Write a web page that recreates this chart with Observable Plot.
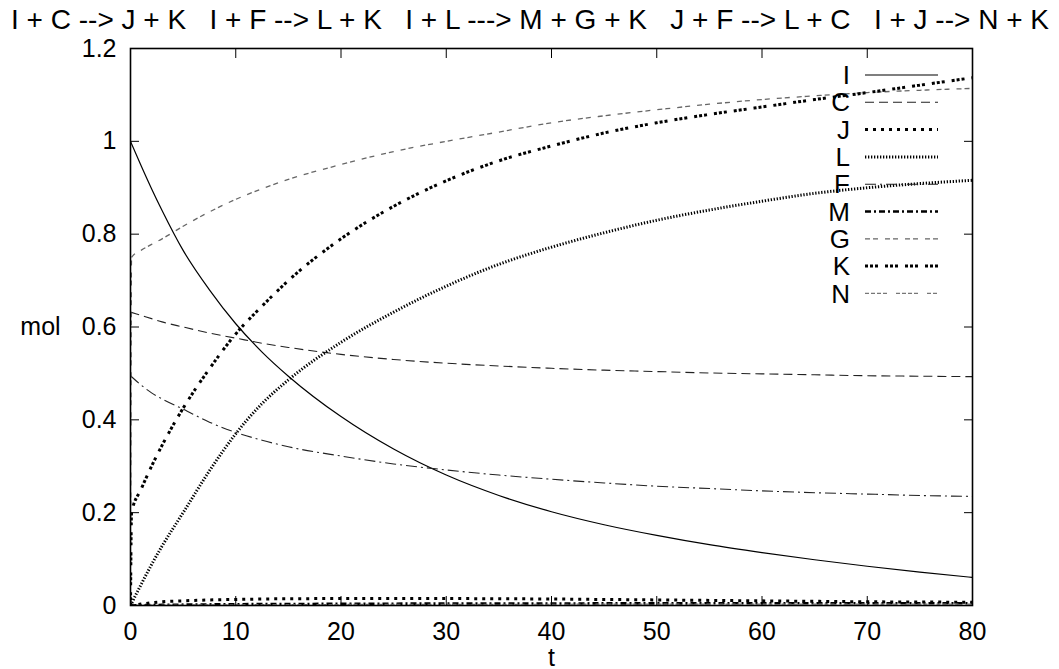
<!DOCTYPE html>
<html>
<head>
<meta charset="utf-8">
<script src="https://cdn.jsdelivr.net/npm/d3@7"></script>
<script src="https://cdn.jsdelivr.net/npm/@observablehq/plot@0.6"></script>
<style>
  html, body { margin: 0; padding: 0; background: #fff; }
  #chart svg { display: block; }
</style>
</head>
<body>
<div id="chart"></div>
<script>
// Reaction scheme shown as the title
const title = "I + C --> J + K   I + F --> L + K   I + L ---> M + G + K   J + F --> L + C   I + J --> N + K";

const xTicks = [0, 10, 20, 30, 40, 50, 60, 70, 80];
const yTicks = [0, 0.2, 0.4, 0.6, 0.8, 1, 1.2];
const yTickLabels = ["0", "0.2", "0.4", "0.6", "0.8", "1", "1.2"];

// Common time grid
const T = [0, 1, 2, 3, 5, 7.5, 10, 12.5, 15, 20, 25, 30, 35, 40, 45, 50, 55, 60, 65, 70, 75, 80];

// Amounts (mol) on the common grid
const I = [1.0, 0.948, 0.898, 0.851, 0.765, 0.680, 0.607, 0.546, 0.494, 0.407, 0.337, 0.281, 0.237, 0.202, 0.174, 0.151, 0.131, 0.114, 0.0985, 0.0845, 0.072, 0.0605];
const C = [0.632, 0.625, 0.618, 0.611, 0.600, 0.587, 0.576, 0.565, 0.556, 0.541, 0.530, 0.522, 0.516, 0.511, 0.507, 0.504, 0.501, 0.499, 0.497, 0.495, 0.494, 0.493];
const J = [0, 0.003, 0.006, 0.008, 0.010, 0.012, 0.013, 0.014, 0.0145, 0.015, 0.015, 0.015, 0.0145, 0.014, 0.013, 0.012, 0.011, 0.010, 0.009, 0.008, 0.0075, 0.007];
const L = [0, 0.045, 0.088, 0.128, 0.200, 0.290, 0.370, 0.435, 0.486, 0.567, 0.632, 0.688, 0.735, 0.772, 0.803, 0.830, 0.852, 0.871, 0.888, 0.900, 0.909, 0.916];
const F = [0.495, 0.475, 0.458, 0.445, 0.423, 0.395, 0.373, 0.356, 0.342, 0.322, 0.305, 0.292, 0.281, 0.272, 0.264, 0.257, 0.252, 0.247, 0.243, 0.240, 0.237, 0.235];
const M = [0, 0.0005, 0.001, 0.0013, 0.0018, 0.0023, 0.0027, 0.003, 0.0032, 0.0036, 0.0039, 0.0041, 0.0043, 0.0044, 0.0045, 0.0046, 0.0047, 0.0047, 0.0048, 0.0048, 0.0048, 0.0049];
const N = [0, 0.0003, 0.0006, 0.0008, 0.0011, 0.0014, 0.0016, 0.0018, 0.002, 0.0022, 0.0024, 0.0025, 0.0026, 0.0027, 0.0028, 0.0028, 0.0029, 0.0029, 0.003, 0.003, 0.003, 0.003];

// G and K jump right after t = 0
const TJ = [0, 0.1, 1, 2, 3, 5, 7.5, 10, 12.5, 15, 20, 25, 30, 35, 40, 45, 50, 55, 60, 65, 70, 75, 80];
const G = [0, 0.750, 0.765, 0.778, 0.790, 0.817, 0.848, 0.875, 0.898, 0.918, 0.950, 0.978, 1.000, 1.020, 1.040, 1.055, 1.068, 1.080, 1.090, 1.098, 1.105, 1.110, 1.114];
const K = [0, 0.200, 0.250, 0.300, 0.345, 0.425, 0.510, 0.585, 0.645, 0.700, 0.790, 0.860, 0.915, 0.958, 0.990, 1.018, 1.040, 1.058, 1.074, 1.090, 1.105, 1.121, 1.137];

// Series in drawing order with their line styles
const series = [
  {name: "I", t: T,  v: I, stroke: "#000", width: 1.2, dash: null},
  {name: "C", t: T,  v: C, stroke: "#222", width: 1.1, dash: "9 5"},
  {name: "J", t: T,  v: J, stroke: "#000", width: 3,   dash: "3 5"},
  {name: "L", t: T,  v: L, stroke: "#000", width: 3,   dash: "1.3 1.7"},
  {name: "F", t: T,  v: F, stroke: "#222", width: 1.1, dash: "11 4 2 4"},
  {name: "M", t: T,  v: M, stroke: "#000", width: 2.6, dash: "6 3 2 3"},
  {name: "G", t: TJ, v: G, stroke: "#666", width: 1.3, dash: "5 3 5 7"},
  {name: "K", t: TJ, v: K, stroke: "#000", width: 3,   dash: "3 2 3 2 3 7"},
  {name: "N", t: T,  v: N, stroke: "#777", width: 1.2, dash: "4 2 4 2 4 2 4 9"}
];

const lineMarks = series.map(s =>
  Plot.line(s.t.map((t, i) => ({t, v: s.v[i]})), {
    x: "t", y: "v",
    stroke: s.stroke, strokeWidth: s.width,
    strokeDasharray: s.dash, strokeLinecap: "butt",
    curve: "monotone-x", clip: true
  })
);

// Key in the top-right corner of the frame
function key(index, scales, values, dimensions) {
  const right = dimensions.width - dimensions.marginRight;
  const g = d3.create("svg:g");
  series.forEach((s, i) => {
    const y = dimensions.marginTop + 27 + i * 27.3;
    g.append("text")
      .attr("x", right - 122).attr("y", y).attr("dy", "0.35em")
      .attr("text-anchor", "end")
      .attr("font-family", "Liberation Sans, Arial, sans-serif")
      .attr("font-size", 26)
      .attr("fill", "#000")
      .text(s.name);
    g.append("line")
      .attr("x1", right - 107).attr("x2", right - 34)
      .attr("y1", y).attr("y2", y)
      .attr("stroke", s.stroke).attr("stroke-width", s.width)
      .attr("stroke-dasharray", s.dash);
  });
  return g.node();
}

const chart = Plot.plot({
  width: 1059,
  height: 669,
  marginLeft: 130,
  marginRight: 87,
  marginTop: 48,
  marginBottom: 64,
  style: {fontFamily: "Liberation Sans, Arial, sans-serif", fontSize: "25px", color: "#000", background: "#fff"},
  x: {domain: [0, 80]},
  y: {domain: [0, 1.2]},
  marks: [
    ...lineMarks,
    Plot.axisX({anchor: "bottom", ticks: xTicks, tickSize: -9, tickPadding: 26, label: null, fontSize: 25}),
    Plot.axisX({anchor: "top", ticks: xTicks, tickSize: -9, tickFormat: () => "", label: null}),
    Plot.axisY({anchor: "left", ticks: yTicks, tickSize: -9, tickPadding: 23, label: null, fontSize: 25,
                tickFormat: d => yTickLabels[yTicks.indexOf(d)]}),
    Plot.axisY({anchor: "right", ticks: yTicks, tickSize: -9, tickFormat: () => "", label: null}),
    Plot.frame({stroke: "#000", strokeWidth: 1.6}),
    key,
    Plot.text([title], {frameAnchor: "top", lineAnchor: "middle", dx: -21.5, dy: -28, fontSize: 28, fill: "#000"}),
    Plot.text(["mol"], {frameAnchor: "left", dx: -90, textAnchor: "middle", fontSize: 25, fill: "#000"}),
    Plot.text(["t"], {frameAnchor: "bottom", lineAnchor: "middle", dy: 52, fontSize: 25, fill: "#000"})
  ]
});

document.getElementById("chart").appendChild(chart);
</script>
</body>
</html>
